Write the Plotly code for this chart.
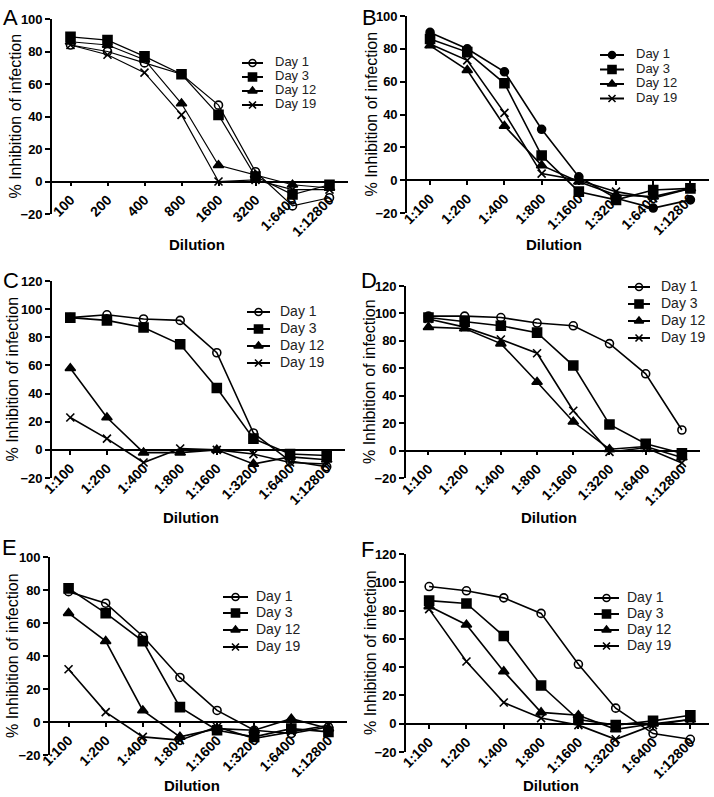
import plotly.graph_objects as go

W, H = 714, 797

dilutions = ["1:100", "1:200", "1:400", "1:800", "1:1600", "1:3200", "1:6400", "1:12800"]
dilutions_a = ["100", "200", "400", "800", "1600", "3200", "1:6400", "1:12800"]
days = ["Day 1", "Day 3", "Day 12", "Day 19"]

a_day1 = [84, 80, 73, 66, 47, 6, -15, -10]
a_day3 = [89, 87, 77, 66, 41, 3, -8, -2]
a_day12 = [86, 84, 75, 48, 10, 4, -2, -4]
a_day19 = [84, 78, 67, 41, 0, 1, -5, -5]

b_day1 = [90, 80, 66, 31, 2, -11, -17, -12]
b_day3 = [86, 78, 59, 15, -7, -12, -6, -5]
b_day12 = [82, 67, 33, 9, -1, -9, -10, -5]
b_day19 = [83, 73, 41, 4, 0, -7, -11, -5]

c_day1 = [94, 96, 93, 92, 69, 12, -8, -12]
c_day3 = [94, 92, 87, 75, 44, 8, -3, -4]
c_day12 = [58, 23, -2, -2, 0, -10, -5, -7]
c_day19 = [23, 8, -9, 1, 0, -3, -9, -10]

d_day1 = [98, 98, 97, 93, 91, 78, 56, 15]
d_day3 = [97, 94, 91, 86, 62, 19, 5, -2]
d_day12 = [90, 89, 78, 50, 21, 1, 3, -5]
d_day19 = [96, 90, 81, 71, 29, -1, 2, -9]

e_day1 = [79, 72, 52, 27, 7, -5, -7, -3]
e_day3 = [81, 66, 49, 9, -5, -9, -4, -6]
e_day12 = [66, 49, 7, -9, -4, -5, 2, -4]
e_day19 = [32, 6, -9, -11, -3, -10, -6, -2]

f_day1 = [97, 94, 89, 78, 42, 11, -7, -11]
f_day3 = [87, 85, 62, 27, 3, -1, 2, 6]
f_day12 = [83, 70, 37, 8, 6, -4, 0, 3]
f_day19 = [81, 44, 15, 4, -1, -11, -1, 3]

FONT = "Liberation Sans, Arial, sans-serif"

# layout of each panel in pixels: plot box, x range start, legend placement
panels = [
    dict(letter="A", cats=dilutions_a, series=[a_day1, a_day3, a_day12, a_day19], d1="circle-open",
         ymax=100, box=(52, 348, 19, 214), x0=-0.5, leg=(242, 263, 275, [63, 77, 91, 105]),
         lfs=13, ytx=15, dil=(197, 245), lw=1.2, let=(1, 3)),
    dict(letter="B", cats=dilutions, series=[b_day1, b_day3, b_day12, b_day19], d1="circle",
         ymax=100, box=(407, 709, 16, 213), x0=-0.62, leg=(600, 624, 636, [55, 69.5, 84, 98.5]),
         lfs=13, ytx=371, dil=(554, 244), lw=1.6, let=(360, 3)),
    dict(letter="C", cats=dilutions, series=[c_day1, c_day3, c_day12, c_day19], d1="circle-open",
         ymax=120, box=(52, 345, 281, 478), x0=-0.5, leg=(247, 270, 280, [312, 329, 346, 363]),
         lfs=14, ytx=12, dil=(191, 517), lw=1.6, let=(1, 266)),
    dict(letter="D", cats=dilutions, series=[d_day1, d_day3, d_day12, d_day19], d1="circle-open",
         ymax=120, box=(406, 700, 286, 478), x0=-0.62, leg=(628, 650, 661, [287, 304, 321, 338]),
         lfs=14, ytx=369, dil=(549, 517), lw=1.6, let=(359, 266)),
    dict(letter="E", cats=dilutions, series=[e_day1, e_day3, e_day12, e_day19], d1="circle-open",
         ymax=100, box=(50, 347, 557, 755), x0=-0.5, leg=(223, 248, 256, [597, 613, 630, 647]),
         lfs=14, ytx=12, dil=(192, 785), lw=1.6, let=(0, 533)),
    dict(letter="F", cats=dilutions, series=[f_day1, f_day3, f_day12, f_day19], d1="circle-open",
         ymax=120, box=(406, 709, 554, 752), x0=-0.62, leg=(594, 619, 627, [598, 614, 630, 646]),
         lfs=14, ytx=370, dil=(551, 785), lw=1.6, let=(359, 535)),
]


def px(x):
    return x / W


def py(y):
    return 1 - y / H


fig = go.Figure()
annotations = []
layout = {}
LEG = len(panels) + 1  # overlay axis in pixel units, used for the legends

for i, p in enumerate(panels, start=1):
    xa, ya = f"x{i}", f"y{i}"
    symbols = [p["d1"], "square", "triangle-up", "x-thin"]
    sizes = [8, 9, 9, 8]
    for name, vals, sym, sz in zip(days, p["series"], symbols, sizes):
        fig.add_trace(go.Scatter(
            x=p["cats"], y=vals, mode="lines+markers", name=name, showlegend=False,
            xaxis=xa, yaxis=ya,
            line=dict(color="black", width=p["lw"]),
            marker=dict(symbol=sym, size=sz, color="black",
                        line=dict(color="black", width=1.6)),
        ))

    left, right, top, bottom = p["box"]
    ymin, ymax = -20, p["ymax"]
    zero_px = bottom - (0 - ymin) / (ymax - ymin) * (bottom - top)
    layout[f"xaxis{i}"] = dict(
        domain=[px(left), px(right)], range=[p["x0"], 7.5], type="category",
        categoryorder="array", categoryarray=p["cats"],
        anchor="free", position=py(zero_px), automargin=False,
        showline=True, linecolor="black", linewidth=1.6,
        ticks="outside", ticklen=4, tickwidth=1.5, tickcolor="black",
        tickangle=-45, tickfont=dict(family=FONT, size=14, color="black", weight="bold"),
        showgrid=False, zeroline=False, fixedrange=True,
    )
    layout[f"yaxis{i}"] = dict(
        domain=[py(bottom), py(top)], range=[ymin, ymax], anchor=xa, automargin=False,
        tickmode="linear", tick0=-20, dtick=20,
        showline=True, linecolor="black", linewidth=1.6,
        ticks="outside", ticklen=5, tickwidth=1.5, tickcolor="black",
        tickfont=dict(family=FONT, size=13, color="black", weight="bold"),
        showgrid=False, zeroline=False, fixedrange=True,
    )

    # custom legend (tighter than plotly's own legend)
    lx0, lx1, ltx, rows = p["leg"]
    for name, sym, sz, ry in zip(days, symbols, sizes, rows):
        fig.add_trace(go.Scatter(
            x=[lx0, lx1], y=[ry, ry], mode="lines", showlegend=False,
            xaxis=f"x{LEG}", yaxis=f"y{LEG}", line=dict(color="black", width=2),
            hoverinfo="skip"))
        fig.add_trace(go.Scatter(
            x=[(lx0 + lx1) / 2], y=[ry], mode="markers", showlegend=False,
            xaxis=f"x{LEG}", yaxis=f"y{LEG}",
            marker=dict(symbol=sym, size=sz - 1, color="black",
                        line=dict(color="black", width=1.6)),
            hoverinfo="skip"))
        fig.add_trace(go.Scatter(
            x=[ltx], y=[ry], mode="text", text=[name], textposition="middle right",
            showlegend=False, xaxis=f"x{LEG}", yaxis=f"y{LEG}", hoverinfo="skip",
            cliponaxis=False,
            textfont=dict(family=FONT, size=p["lfs"], color="#222222")))

    annotations.append(dict(
        x=px(p["let"][0]), y=py(p["let"][1]), xref="paper", yref="paper",
        text=p["letter"], showarrow=False, xanchor="left", yanchor="top",
        font=dict(family=FONT, size=22, color="black")))
    annotations.append(dict(
        x=px(p["ytx"]), y=py((top + bottom) / 2), xref="paper", yref="paper",
        text="% Inhibition of infection", showarrow=False, textangle=-90,
        xanchor="center", yanchor="middle",
        font=dict(family=FONT, size=16, color="black")))
    annotations.append(dict(
        x=px(p["dil"][0]), y=py(p["dil"][1]), xref="paper", yref="paper",
        text="Dilution", showarrow=False, xanchor="center", yanchor="middle",
        font=dict(family=FONT, size=15, color="black", weight="bold")))

layout[f"xaxis{LEG}"] = dict(domain=[0, 1], range=[0, W], visible=False, fixedrange=True,
                             automargin=False)
layout[f"yaxis{LEG}"] = dict(domain=[0, 1], range=[H, 0], visible=False, fixedrange=True,
                             anchor=f"x{LEG}", automargin=False)

fig.update_layout(
    template="none",
    width=W, height=H,
    margin=dict(l=0, r=0, t=0, b=0, pad=0),
    paper_bgcolor="white", plot_bgcolor="rgba(0,0,0,0)",
    showlegend=False,
    annotations=annotations,
    **layout,
)

# the page body has a default 8px margin; drop it so the figure fills the window
fig.write_html("out.html", config={"displayModeBar": False},
               post_script="document.body.style.margin='0';")
